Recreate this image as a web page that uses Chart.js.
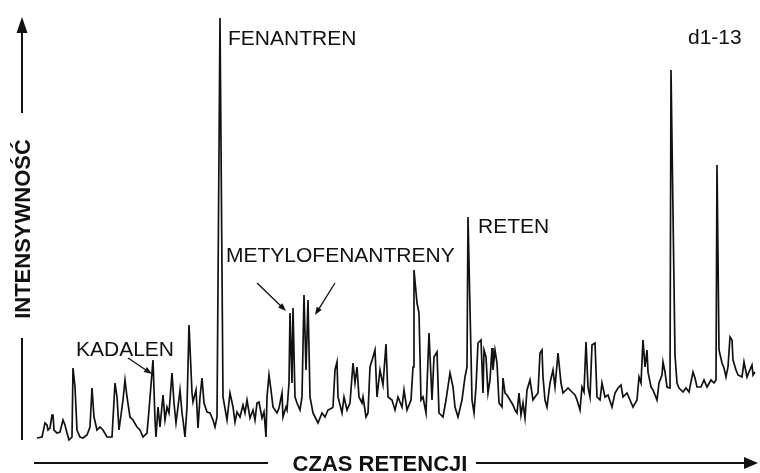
<!DOCTYPE html>
<html>
<head>
<meta charset="utf-8">
<script src="https://cdn.jsdelivr.net/npm/chart.js@4"></script>
<style>
  html, body { margin: 0; padding: 0; background: #fff; }
  #wrap { width: 760px; height: 473px; }
</style>
</head>
<body>
<div id="wrap"><canvas id="chrom"></canvas></div>
<script>
// numer skanu (czas retencji, j.u.)
const scans = [
  37, 42, 45, 47, 48, 50, 52, 53, 54, 57, 60, 63, 65, 67, 69, 72, 73, 75, 77, 80,
  83, 87, 90, 92, 94, 97, 100, 103, 107, 112, 115, 117, 119, 123, 125, 127, 130, 133, 137, 140,
  143, 147, 149, 153, 155, 156, 158, 160, 163, 165, 167, 169, 172, 174, 176, 178, 180, 182, 183, 185,
  187, 189, 192, 193, 196, 198, 200, 202, 204, 207, 210, 213, 215, 217, 220, 223, 227, 230, 233, 235,
  237, 240, 243, 245, 247, 250, 253, 255, 257, 259, 262, 264, 266, 267, 269, 271, 273, 277, 279, 282,
  283, 286, 287, 289, 290, 292, 293, 295, 297, 300, 302, 304, 306, 308, 310, 313, 315, 318, 322, 325,
  328, 332, 333, 335, 337, 338, 342, 344, 347, 350, 353, 355, 357, 359, 362, 363, 366, 368, 370, 373,
  375, 377, 380, 383, 386, 388, 392, 395, 398, 402, 404, 407, 411, 413, 414, 417, 419, 421, 423, 426,
  429, 432, 434, 437, 439, 443, 446, 450, 453, 455, 458, 462, 465, 467, 468, 472, 474, 476, 478, 481,
  483, 484, 486, 488, 490, 492, 493, 495, 497, 499, 502, 503, 505, 507, 510, 513, 515, 517, 519, 521,
  523, 525, 527, 530, 533, 535, 538, 540, 542, 543, 545, 547, 550, 553, 555, 558, 561, 563, 566, 568,
  572, 575, 577, 580, 582, 584, 586, 588, 590, 592, 595, 597, 600, 602, 605, 608, 612, 615, 618, 621,
  623, 627, 630, 633, 637, 639, 641, 643, 645, 647, 648, 651, 653, 657, 659, 662, 663, 665, 667, 670,
  671, 675, 677, 679, 683, 686, 689, 693, 695, 697, 701, 704, 707, 711, 714, 716, 717, 719, 722, 724,
  726, 728, 730, 732, 733, 736, 738, 742, 744, 747, 749, 752, 753, 755
];
// intensywność (j.u.)
const intensity = [
  7, 8, 22, 20, 15, 17, 30, 30, 15, 12, 13, 25, 20, 12, 5, 8, 77, 58, 15, 8,
  7, 10, 18, 57, 28, 15, 18, 15, 8, 8, 62, 48, 15, 45, 65, 48, 28, 25, 18, 15,
  8, 12, 35, 85, 25, 8, 38, 18, 50, 25, 38, 32, 72, 42, 22, 38, 55, 32, 25, 8,
  38, 120, 52, 43, 55, 17, 48, 67, 42, 33, 32, 25, 18, 28, 427, 48, 25, 52, 38, 23,
  33, 28, 40, 32, 45, 27, 35, 25, 42, 43, 27, 33, 8, 48, 70, 55, 38, 32, 37, 52,
  28, 38, 35, 62, 132, 62, 137, 48, 42, 35, 48, 150, 75, 145, 48, 32, 28, 22, 32, 28,
  35, 37, 38, 75, 83, 48, 32, 48, 35, 42, 82, 62, 78, 48, 42, 48, 28, 32, 78, 88,
  95, 48, 75, 60, 101, 48, 45, 35, 48, 38, 55, 35, 45, 78, 175, 142, 132, 45, 48, 32,
  112, 45, 88, 93, 32, 28, 45, 72, 58, 38, 28, 45, 68, 78, 228, 45, 32, 58, 102, 105,
  52, 95, 88, 52, 65, 97, 75, 95, 82, 42, 38, 67, 52, 50, 45, 40, 35, 32, 52, 30,
  42, 27, 55, 65, 45, 48, 52, 92, 95, 68, 45, 38, 62, 75, 58, 92, 62, 52, 55, 57,
  53, 50, 45, 35, 58, 53, 103, 58, 48, 100, 102, 48, 45, 62, 48, 50, 38, 52, 57, 60,
  48, 52, 45, 38, 45, 68, 62, 105, 78, 95, 73, 58, 55, 45, 62, 70, 83, 73, 58, 57,
  375, 90, 62, 57, 53, 57, 53, 73, 67, 58, 58, 65, 58, 65, 62, 65, 280, 95, 82, 77,
  68, 78, 108, 105, 85, 75, 70, 68, 83, 68, 73, 80, 70, 73
];
const peakLabels = ['KADALEN', 'FENANTREN', 'METYLOFENANTRENY', 'RETEN'];
const sampleName = 'd1-13';
const xTitle = 'CZAS RETENCJI';
const yTitle = 'INTENSYWNOŚĆ';

const ink = '#111';

function arrow(ctx, x1, y1, x2, y2, head, w) {
  const a = Math.atan2(y2 - y1, x2 - x1);
  ctx.beginPath();
  ctx.moveTo(x1, y1);
  ctx.lineTo(x2 - Math.cos(a) * head * 0.8, y2 - Math.sin(a) * head * 0.8);
  ctx.stroke();
  ctx.beginPath();
  ctx.moveTo(x2, y2);
  ctx.lineTo(x2 - head * Math.cos(a) + w * Math.sin(a), y2 - head * Math.sin(a) - w * Math.cos(a));
  ctx.lineTo(x2 - head * Math.cos(a) - w * Math.sin(a), y2 - head * Math.sin(a) + w * Math.cos(a));
  ctx.closePath();
  ctx.fill();
}

// napisy, strzałki osi i podpisy pików
const decor = {
  id: 'decor',
  afterDraw(chart) {
    const ctx = chart.ctx;
    ctx.save();
    ctx.fillStyle = ink;
    ctx.strokeStyle = ink;

    // os Y
    ctx.lineWidth = 2;
    arrow(ctx, 22, 113, 22, 17, 16, 5.5);
    ctx.beginPath();
    ctx.moveTo(22, 338);
    ctx.lineTo(22, 440);
    ctx.stroke();
    ctx.save();
    ctx.translate(30, 229);
    ctx.rotate(-Math.PI / 2);
    ctx.font = 'bold 22px "Liberation Sans", Arial, sans-serif';
    ctx.textAlign = 'center';
    ctx.textBaseline = 'alphabetic';
    ctx.fillText(yTitle, 0, 0);
    ctx.restore();

    // os X
    ctx.beginPath();
    ctx.moveTo(34, 463);
    ctx.lineTo(268, 463);
    ctx.stroke();
    arrow(ctx, 476, 463, 758, 463, 14, 6);
    ctx.font = 'bold 22px "Liberation Sans", Arial, sans-serif';
    ctx.textAlign = 'center';
    ctx.textBaseline = 'alphabetic';
    ctx.fillText(xTitle, 380, 471);

    // podpisy
    ctx.font = '21px "Liberation Sans", Arial, sans-serif';
    ctx.textAlign = 'left';
    ctx.fillText(peakLabels[0], 76, 356);
    ctx.fillText(peakLabels[1], 228, 45);
    ctx.fillText(peakLabels[2], 226, 262);
    ctx.fillText(peakLabels[3], 478, 233);
    ctx.fillText(sampleName, 688, 44);

    ctx.lineWidth = 1.3;
    arrow(ctx, 128, 358, 152, 374, 8, 3);
    arrow(ctx, 257, 283, 286, 311, 8, 3);
    arrow(ctx, 335, 283, 315, 315, 8, 3);
    ctx.restore();
  }
};

new Chart(document.getElementById('chrom').getContext('2d'), {
  type: 'line',
  data: {
    datasets: [{
      data: scans.map((s, i) => ({ x: s, y: intensity[i] })),
      borderColor: ink,
      borderWidth: 1.7,
      pointRadius: 0,
      tension: 0,
      fill: false,
      clip: false
    }]
  },
  options: {
    responsive: true,
    maintainAspectRatio: false,
    animation: false,
    layout: { padding: { left: 37, right: 5, top: 18, bottom: 28 } },
    scales: {
      x: { type: 'linear', min: 37, max: 755, display: false },
      y: { min: 0, max: 427, display: false }
    },
    plugins: {
      legend: { display: false },
      tooltip: { enabled: false }
    }
  },
  plugins: [decor]
});
</script>
</body>
</html>
